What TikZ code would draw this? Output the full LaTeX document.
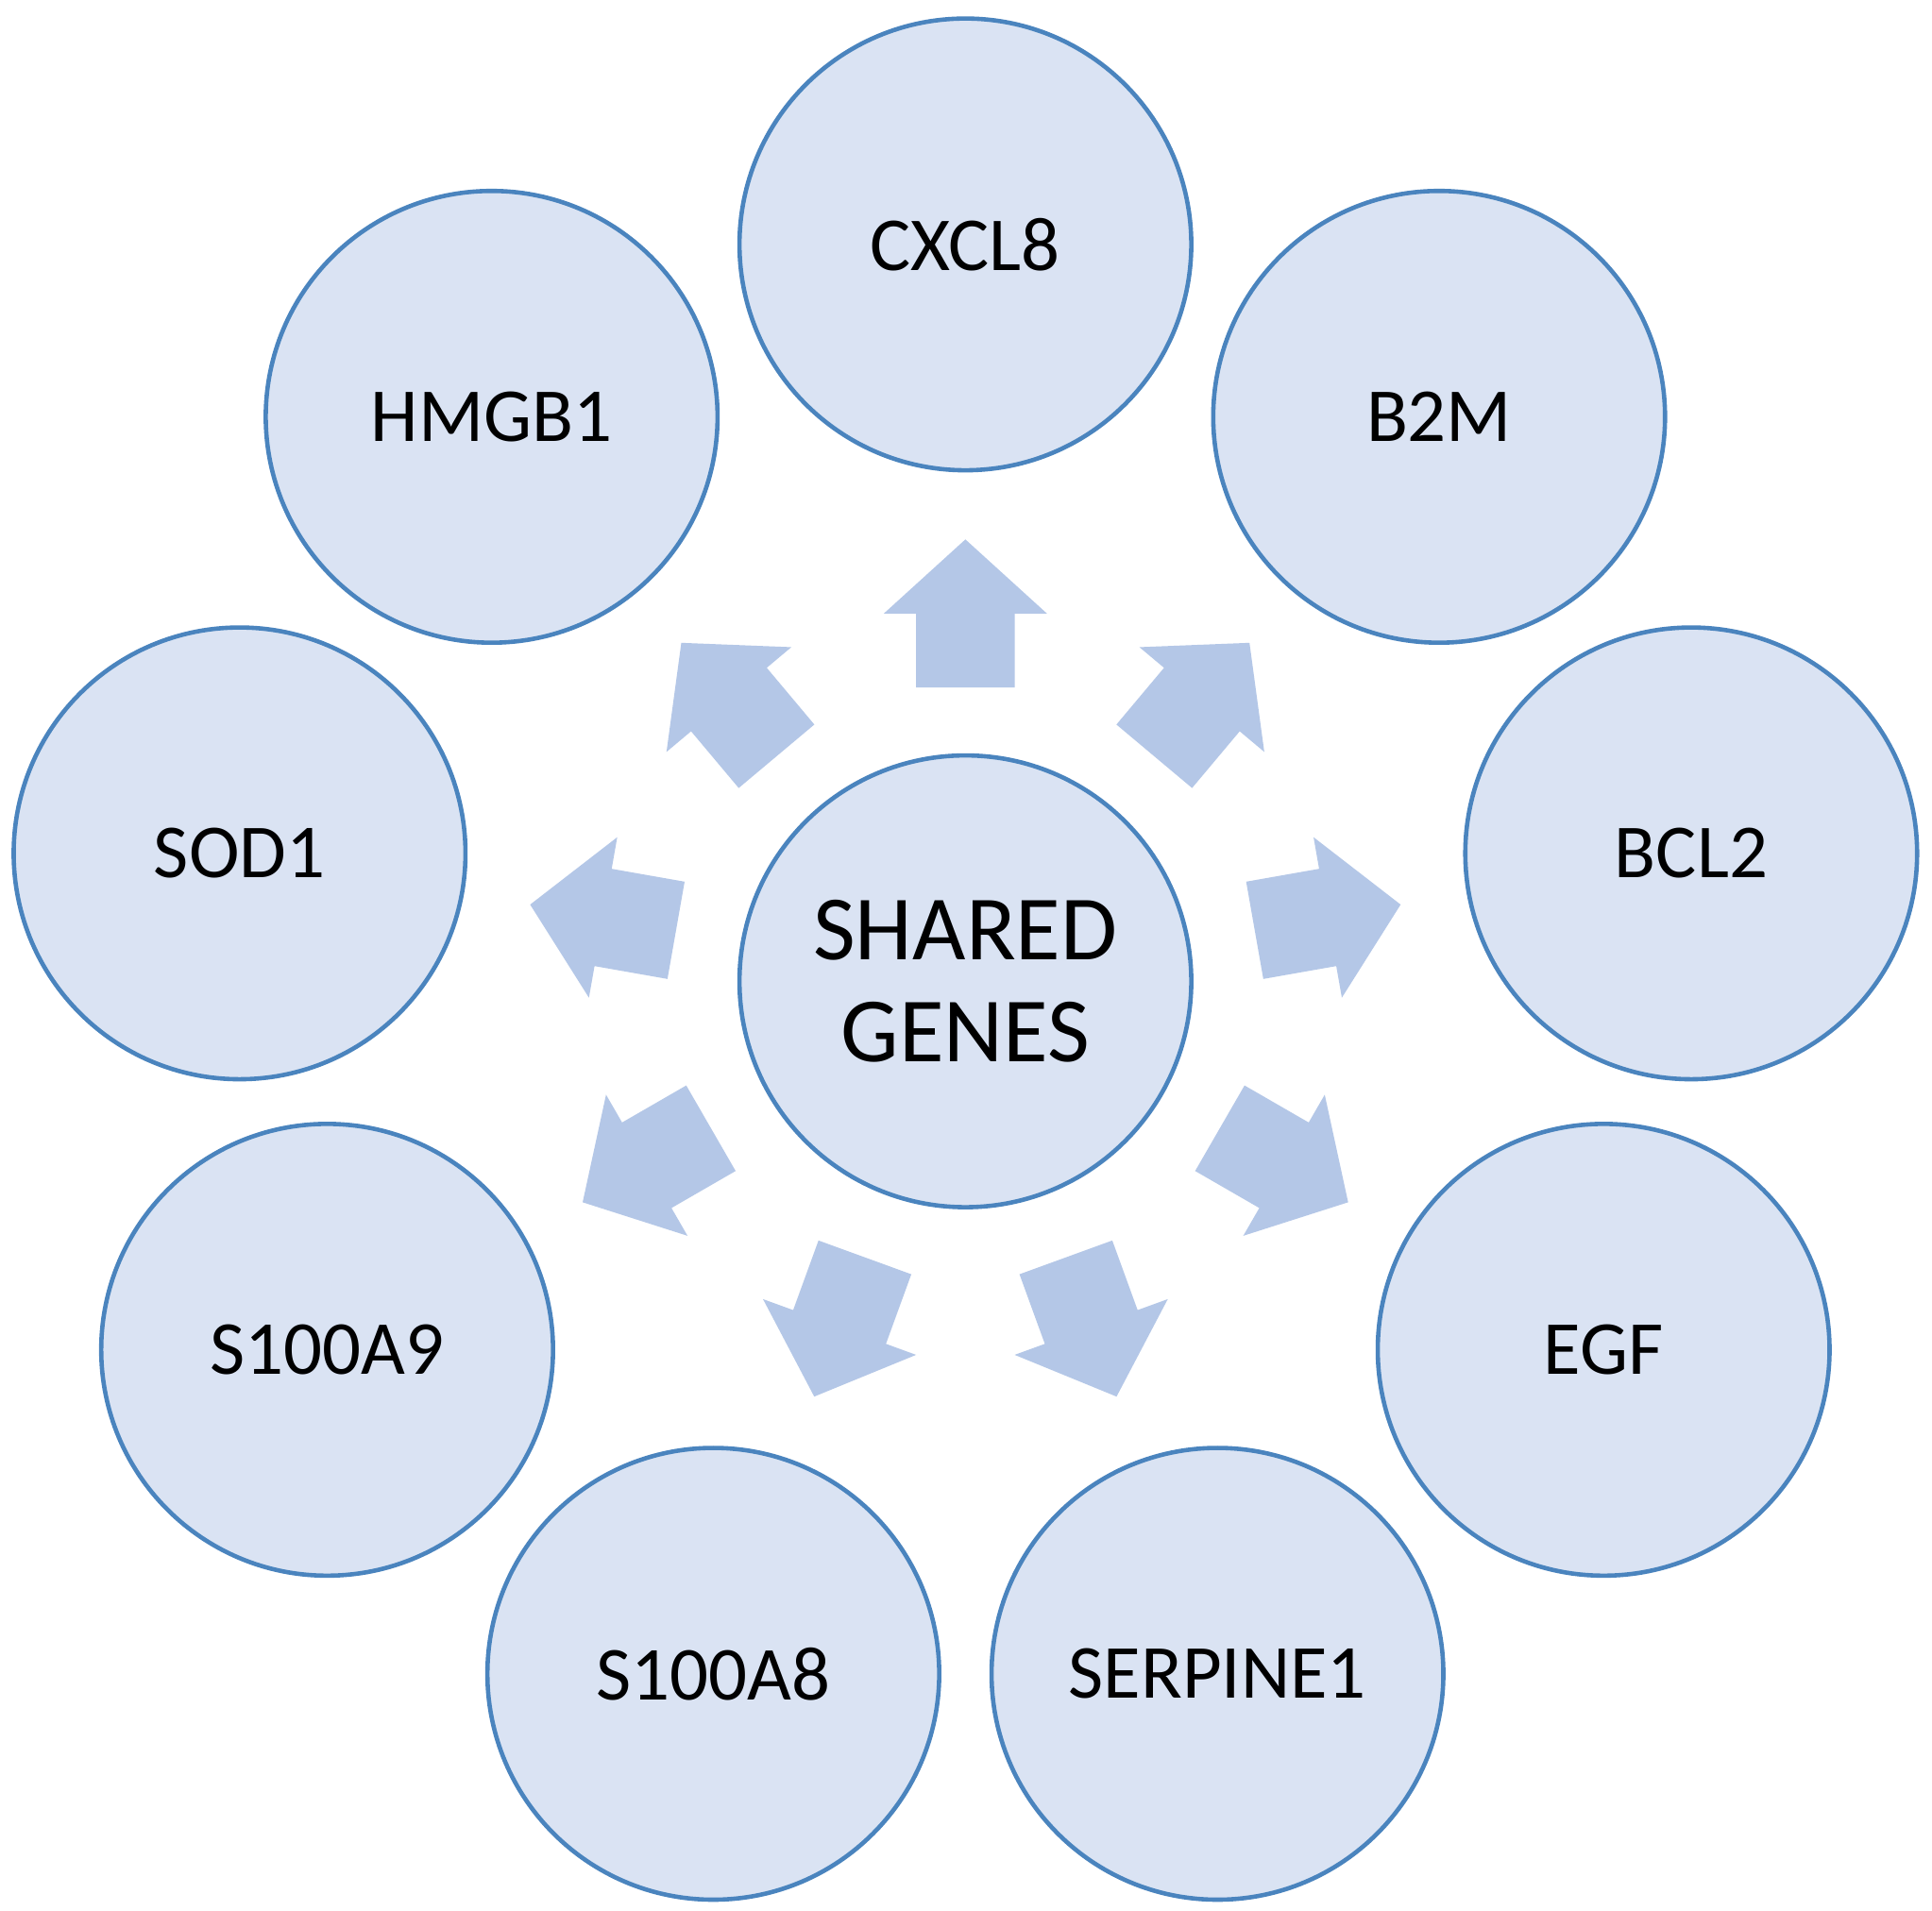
\documentclass[tikz,border=0pt]{standalone}
\usepackage{fontspec}
\setmainfont{Carlito}
\usetikzlibrary{calc}
\definecolor{cfill}{HTML}{DAE3F3}
\definecolor{cline}{HTML}{4A84BE}
\definecolor{afill}{HTML}{B4C7E7}
\begin{document}
\begin{tikzpicture}[x=0.05cm,y=0.05cm,
  gene/.style={circle,draw=cline,fill=cfill,line width=5pt,minimum size=18.3cm,inner sep=0pt,font=\fontsize{88}{96}\selectfont,align=center},
  blockarrow/.style={fill=afill,draw=none}]
\useasboundingbox (0,0) rectangle (1565,-1548);
\fill[white] (0,0) rectangle (1565,-1548);
\coordinate (c) at (782,-795);
\foreach \a in {90,50,...,-230}{
  \begin{scope}[shift={(c)},rotate=\a]
    \fill[blockarrow] (238,-40) -- (298,-40) -- (298,-66) -- (358,0) -- (298,66) -- (298,40) -- (238,40) -- cycle;
  \end{scope}
}
\node[gene,font=\fontsize{106}{118}\selectfont] (center) at (c) {SHARED\\GENES};
\foreach \n [count=\k from 0] in {CXCL8,B2M,BCL2,EGF,SERPINE1,S100A8,S100A9,SOD1,HMGB1}{
  \pgfmathsetmacro\ang{90-40*\k}
  \node[gene] (g\k) at ($(c)+(\ang:597)$) {\n};
}
\end{tikzpicture}
\end{document}
